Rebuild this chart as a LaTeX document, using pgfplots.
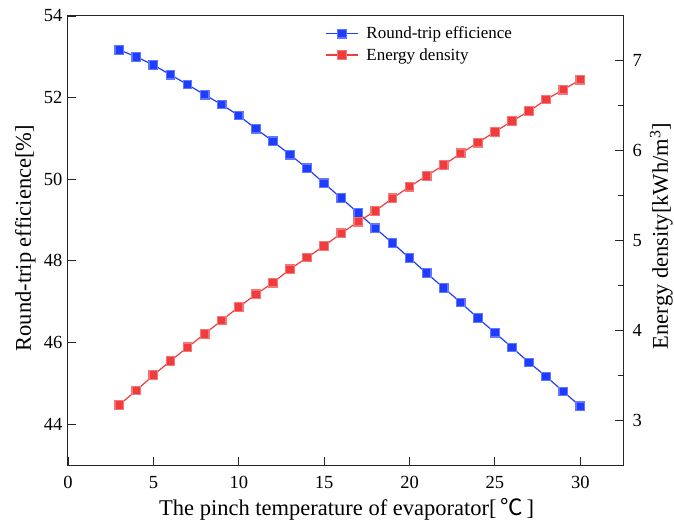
\documentclass[border=0pt]{standalone}
\usepackage{pgfplots}
\pgfplotsset{compat=1.18}
\usepackage{fontspec}
\setmainfont{Liberation Serif}
\newfontfamily\cjk{Noto Sans CJK SC}
\definecolor{cblue}{HTML}{1F3DFF}
\definecolor{cred}{HTML}{F03C3C}
\definecolor{axc}{HTML}{262626}
\pgfplotsset{
  common/.style={
    scale only axis, width=555pt, height=449pt,
    xmin=0, xmax=32.5,
    tick align=inside, major tick length=8pt, minor tick length=5pt,
    every tick/.style={axc, line width=0.9pt},
    axis line style={axc, line width=1pt},
    tick label style={font=\fontsize{18.5}{20}\selectfont},
    label style={font=\fontsize{22.5}{24}\selectfont},
    /pgf/number format/assume math mode=true,
  }
}
\begin{document}
\begin{tikzpicture}
\useasboundingbox (-68pt,-62pt) rectangle (606pt,465pt);
\begin{axis}[common,
  ymin=43, ymax=54,
  ytick={44,46,48,50,52,54},
  xtick={0,5,10,15,20,25,30},
  xtick pos=bottom, ytick pos=left,
  xlabel={The pinch temperature of evaporator[\,{\cjk ℃}\,]},
  ylabel={Round-trip efficience[\%]},
  xlabel style={at={(axis description cs:0.502,-0.1114)}, anchor=base},
  ylabel style={at={(axis description cs:-0.067,0.505)}, anchor=base},
  yticklabel style={xshift=-2pt},
  xticklabel style={yshift=-8pt},
]
\addplot[cblue, line width=1.2pt, mark=square*, mark size=4.3pt, mark options={fill=cblue, draw=cblue!70}]
coordinates {
(3,53.17)(4,53.0)(5,52.8)(6,52.56)(7,52.32)(8,52.07)(9,51.83)(10,51.56)
(11,51.24)(12,50.93)(13,50.6)(14,50.27)(15,49.9)(16,49.54)(17,49.17)
(18,48.8)(19,48.44)(20,48.07)(21,47.7)(22,47.34)(23,46.98)(24,46.6)
(25,46.24)(26,45.88)(27,45.51)(28,45.17)(29,44.8)(30,44.44)
};
\end{axis}
\begin{axis}[common,
  ymin=2.5, ymax=7.5,
  ytick={3,4,5,6,7}, minor ytick={3.5,4.5,5.5,6.5},
  axis x line=none, axis y line*=right,
  ylabel={Energy density[kWh/m\textsuperscript{3}]},
  ylabel style={at={(axis description cs:1.081,0.51)}, anchor=base},
  yticklabel style={xshift=6pt},
  legend cell align=left,
  legend style={at={(axis description cs:0.4577,0.985)}, anchor=north west,
    draw=none, fill=none, font=\fontsize{17}{19}\selectfont,
    row sep=4pt, /tikz/every odd column/.append style={column sep=6pt}},
  legend image code/.code={
    \draw[#1, mark repeat=2, mark phase=2] plot coordinates {(0pt,0pt) (16pt,0pt) (32pt,0pt)};
  },
]
\addlegendimage{cblue, line width=1.2pt, mark=square*, mark size=4.3pt, mark options={fill=cblue, draw=cblue!70}}
\addlegendentry{Round-trip efficience}
\addplot[cred, line width=1.2pt, mark=square*, mark size=4.3pt, mark options={fill=cred, draw=cred!70}]
coordinates {
(3,3.17)(4,3.33)(5,3.5)(6,3.66)(7,3.81)(8,3.96)(9,4.11)(10,4.26)
(11,4.4)(12,4.53)(13,4.68)(14,4.81)(15,4.94)(16,5.08)(17,5.21)
(18,5.33)(19,5.47)(20,5.6)(21,5.72)(22,5.84)(23,5.97)(24,6.09)
(25,6.21)(26,6.33)(27,6.44)(28,6.57)(29,6.68)(30,6.79)
};
\addlegendentry{Energy density}
\end{axis}
\end{tikzpicture}
\end{document}
